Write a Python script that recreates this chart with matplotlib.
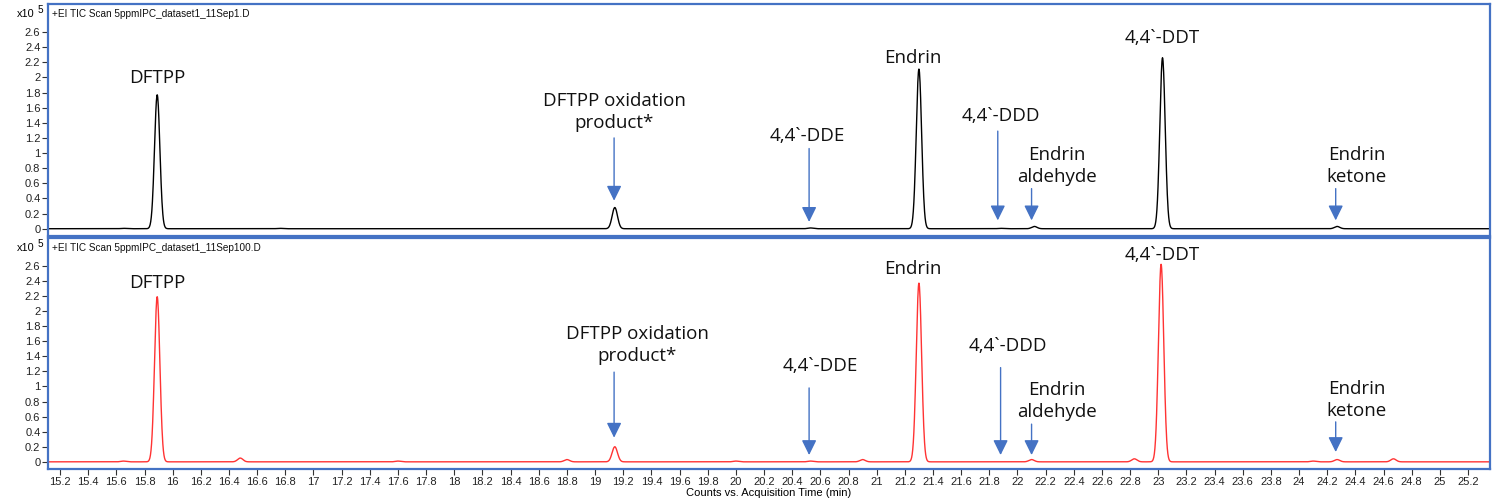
"""
TIC chromatograms: 5 ppm IPC, injection 1 vs injection 100.
"""

import numpy as np
import matplotlib.pyplot as plt

# Peak tables (retention time in min, height in 1e5 counts)
top_rt = [15.65, 15.89, 16.76, 19.14, 20.53, 21.30, 21.88, 22.12, 23.03, 24.27]
top_h = [0.005, 1.77, 0.005, 0.28, 0.01, 2.11, 0.005, 0.03, 2.26, 0.03]

bottom_rt = [15.65, 15.89, 16.48, 17.60, 18.80, 19.14, 20.00, 20.53, 20.90,
             21.30, 22.10, 22.83, 23.02, 24.10, 24.27, 24.67]
bottom_h = [0.01, 2.19, 0.05, 0.01, 0.03, 0.20, 0.01, 0.01, 0.03,
            2.37, 0.03, 0.04, 2.62, 0.01, 0.03, 0.04]

panel_titles = ["+EI TIC Scan 5ppmIPC_dataset1_11Sep1.D",
                "+EI TIC Scan 5ppmIPC_dataset1_11Sep100.D"]

# Compound labels: text, text position (x, y), arrow x / tail y / head y (None = no arrow)
top_labels = [
    ("DFTPP", (15.89, 1.99), None),
    ("DFTPP oxidation\nproduct*", (19.135, 1.54), (19.135, 1.20, 0.37)),
    ("4,4`-DDE", (20.51, 1.23), (20.52, 1.06, 0.09)),
    ("Endrin", (21.26, 2.26), None),
    ("4,4`-DDD", (21.88, 1.49), (21.86, 1.29, 0.11)),
    ("Endrin\naldehyde", (22.28, 0.83), (22.10, 0.53, 0.11)),
    ("4,4`-DDT", (23.03, 2.52), None),
    ("Endrin\nketone", (24.41, 0.83), (24.26, 0.53, 0.11)),
]
bottom_labels = [
    ("DFTPP", (15.89, 2.37), None),
    ("DFTPP oxidation\nproduct*", (19.30, 1.55), (19.135, 1.19, 0.32)),
    ("4,4`-DDE", (20.60, 1.27), (20.52, 0.98, 0.09)),
    ("Endrin", (21.26, 2.56), None),
    ("4,4`-DDD", (21.93, 1.53), (21.88, 1.25, 0.09)),
    ("Endrin\naldehyde", (22.28, 0.81), (22.10, 0.50, 0.09)),
    ("4,4`-DDT", (23.03, 2.75), None),
    ("Endrin\nketone", (24.41, 0.82), (24.26, 0.53, 0.13)),
]

FRAME = "#4472C4"
SIGMA = 0.019


def trace(t, rts, heights):
    y = np.zeros_like(t)
    for rt, h in zip(rts, heights):
        y += h * np.exp(-0.5 * ((t - rt) / SIGMA) ** 2)
    return y


def style_panel(ax, title):
    for s in ax.spines.values():
        s.set_color(FRAME)
        s.set_linewidth(1.6)
    ax.set_xlim(15.115, 25.356)
    ax.set_ylim(-0.095, 2.97)
    yt = np.arange(0, 2.61, 0.2).round(1)
    ax.set_yticks(yt)
    ax.set_yticklabels([f"{v:g}" for v in yt])
    xt = np.arange(15.2, 25.21, 0.2).round(1)
    ax.set_xticks(xt)
    ax.set_xticklabels([f"{v:g}" for v in xt])
    ax.tick_params(axis="both", direction="out", length=4, width=0.8,
                   color="#333333", labelsize=8, labelcolor="#222222", pad=1.5)
    for lab in ax.get_yticklabels() + ax.get_xticklabels():
        lab.set_family("Liberation Sans")
    ax.text(0.003, 0.955, title, transform=ax.transAxes, fontsize=7.2,
            family="Liberation Sans", color="#111111", va="center", ha="left")
    ax.text(-0.0095, 0.955, "x10", transform=ax.transAxes, fontsize=7.8,
            family="Liberation Sans", ha="right", va="center")
    ax.text(-0.007, 0.975, "5", transform=ax.transAxes, fontsize=7.2,
            family="Liberation Sans", ha="left", va="center")


def add_labels(ax, labels):
    for text, (tx, ty), arrow in labels:
        ax.text(tx, ty, text, ha="center", va="center", fontsize=13.5,
                family="Open Sans", color="#111111", linespacing=1.25)
        if arrow is not None:
            ax_, y0, y1 = arrow
            ax.annotate("", xy=(ax_, y1), xytext=(ax_, y0),
                        arrowprops=dict(arrowstyle="-|>,head_width=0.32,head_length=0.65",
                                        color=FRAME, lw=1.0, mutation_scale=14,
                                        shrinkA=0, shrinkB=0))


t = np.arange(15.11, 25.36, 0.002)

fig = plt.figure(figsize=(14.93, 5.03), dpi=100)
ax_top = fig.add_axes([0.0322, 0.531, 0.9658, 0.461])
ax_bot = fig.add_axes([0.0322, 0.0676, 0.9658, 0.4594])

ax_top.plot(t, trace(t, top_rt, top_h), color="black", lw=1.0)
ax_bot.plot(t, trace(t, bottom_rt, bottom_h), color="#FF3333", lw=1.0)

style_panel(ax_top, panel_titles[0])
style_panel(ax_bot, panel_titles[1])
ax_top.tick_params(axis="x", length=0, labelbottom=False)

add_labels(ax_top, top_labels)
add_labels(ax_bot, bottom_labels)

ax_bot.set_xlabel("Counts vs. Acquisition Time (min)", fontsize=8,
                  family="Liberation Sans", labelpad=1)

fig.savefig("out.png", dpi=100)
